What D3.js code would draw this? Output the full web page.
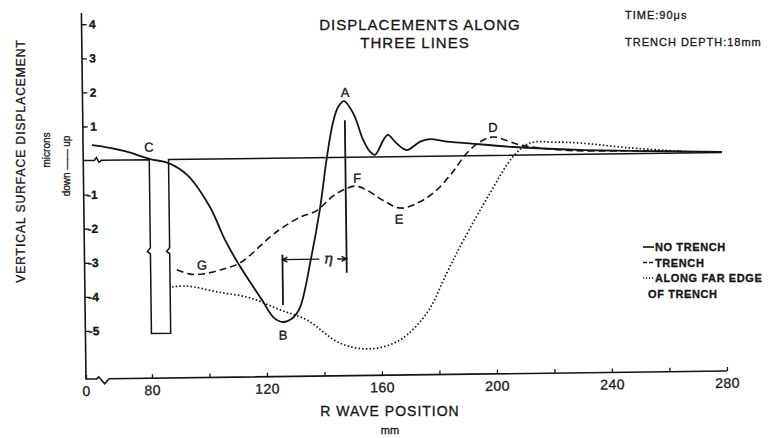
<!DOCTYPE html>
<html>
<head>
<meta charset="utf-8">
<script src="https://cdn.jsdelivr.net/npm/d3@7"></script>
<style>
    body { margin: 0; background: #fff; }
    svg text { font-family: "Liberation Sans", Arial, sans-serif; fill: #151515; stroke: #151515; stroke-width: 0.3px; }
</style>
</head>
<body>
<svg id="chart" width="776" height="438"></svg>
<script>
// R wave position (mm) and vertical surface displacement (microns)
var noTrenchX = [10.8, 20.5, 50.7, 80.3, 86.5, 93.1, 100.9, 106, 110.4, 119, 122.5, 125.8, 129.4, 131.8, 135.8, 139.2,
    141.8, 144.1, 146, 148, 151.2, 154.5, 156.8, 158.5, 161.5, 163.1, 166.1, 169.6, 174.3, 177.7, 183.5, 189.2,
    206.6, 229.9, 254.4, 279.2];
var noTrenchY = [0.45, 0.42, 0.26, 0.02, -0.1, -0.46, -1.41, -2.38, -3.06, -4.21, -4.67, -4.81, -4.68, -4.39, -2.97, -1.48,
    0.01, 1.04, 1.49, 1.65, 1.28, 0.5, 0.16, 0.06, 0.49, 0.64, 0.39, 0.19, 0.43, 0.5, 0.42, 0.38,
    0.24, 0.13, 0.07, 0.02];

var trenchX = [89.1, 93.7, 98.2, 104.1, 111.1, 121.7, 125.9, 132.2, 137.9, 143.8, 148.6, 152, 155.5, 161.2, 167.1,
    174, 179.9, 185.5, 190.5, 195.1, 199.7, 209, 223.9, 250.8, 265];
var trenchY = [-3.24, -3.37, -3.37, -3.26, -3.06, -2.31, -2.05, -1.74, -1.56, -1.13, -0.91, -0.85, -0.97, -1.28, -1.51,
    -1.33, -0.99, -0.47, 0.08, 0.4, 0.54, 0.3, 0.13, 0.08, 0.05];

var farEdgeX = [87.4, 92.6, 103, 114.4, 124.8, 134.1, 145.5, 155.9, 166.4, 175.9, 183, 188.8, 198.4, 206.5, 212.5,
    220.5, 229.9, 247.3, 268.1];
var farEdgeY = [-3.74, -3.72, -3.9, -4.09, -4.45, -4.76, -5.45, -5.63, -5.38, -4.6, -3.43, -2.5, -1.1, -0.05, 0.35,
    0.37, 0.33, 0.17, 0.03];

// trench sketch drawn on the surface line
var trenchEdges = [80, 86.7];
var trenchBottom = -5.1;
var surfaceEnd = 279.2;

// point labels on the curves
var pointNames = ["A", "B", "C", "D", "E", "F", "G"];
var pointX = [148.4, 125.8, 79.9, 199.7, 166.6, 152.2, 97.9];
var pointY = [1.91, -5.19, 0.37, 0.83, -1.83, -0.61, -3.11];

// eta: distance between B and A
var etaX = [125.9, 148.2];
var etaLeftY = [-2.84, -4.31];
var etaRightY = [1.09, -3.39];
var etaArrowY = -2.98;

var xTicks = [0, 80, 100, 120, 140, 160, 180, 200, 220, 240, 260, 280];
var xLabels = [0, 80, 120, 160, 200, 240, 280];
var yTicks = [4, 3, 2, 1, -1, -2, -3, -4, -5];

var svg = d3.select("svg#chart");

// the x axis is broken between 0 and 80 mm
var x = d3.scaleLinear().domain([0, 80, 280]).range([86, 152, 727]);
var y = d3.scaleLinear().domain([-6.41, 4.33]).range([379, 13]);

// the scanned page is turned slightly
var g = svg.append("g").attr("transform", "rotate(-0.72,86,379)");

var ink = "#141414";

// axes
var x0 = x(0), y0 = y(-6.41);
g.append("path")
    .attr("d", "M" + x0 + "," + y(4.33) + "V" + y0 +
        "H" + x(13) + "L" + x(15.5) + "," + (y0 - 2) + "L" + x(22.5) + "," + (y0 + 5) +
        "L" + x(28) + "," + y0 + "H" + x(280))
    .attr("fill", "none").attr("stroke", ink).attr("stroke-width", 1.6);

var xAxis = g.append("g")
    .attr("transform", "translate(0," + y0 + ")")
    .call(d3.axisBottom(x).tickValues(xTicks).tickSizeInner(-4).tickSizeOuter(0).tickPadding(7)
        .tickFormat(d => (xLabels.indexOf(d) >= 0 ? d : "")));
xAxis.select(".domain").remove();
xAxis.selectAll("line").attr("stroke", ink).attr("stroke-width", 1.3);
xAxis.selectAll("text").style("font-size", "14px").style("letter-spacing", "0.5px").attr("fill", ink);

var yAxis = g.append("g")
    .attr("transform", "translate(" + x0 + ",0)")
    .call(d3.axisRight(y).tickValues(yTicks).tickSize(5).tickFormat(d => String(d)));
yAxis.select(".domain").remove();
yAxis.selectAll("line").attr("stroke", ink).attr("stroke-width", 1.3);
yAxis.selectAll("text")
    .attr("x", 14)
    .style("text-anchor", "end")
    .style("font-size", "12px")
    .style("font-weight", "bold")
    .attr("fill", ink);

// surface line with the trench cut in it
var sy = y(0), bx = x(13.5);
var trL = x(trenchEdges[0]), trR = x(trenchEdges[1]), trB = y(trenchBottom);
var braceY = y(-2.7);
g.append("path")
    .attr("d",
        "M" + x0 + "," + sy + "H" + bx + "L" + x(16) + "," + (sy - 3) + "L" + x(19) + "," + (sy + 2) +
        "L" + x(22) + "," + sy + "H" + trL +
        "V" + (braceY - 4) + "L" + (trL - 3) + "," + braceY + "L" + trL + "," + (braceY + 2) +
        "V" + trB + "H" + trR +
        "V" + (braceY + 2) + "L" + (trR - 3) + "," + braceY + "L" + trR + "," + (braceY - 4) +
        "V" + sy + "H" + x(surfaceEnd))
    .attr("fill", "none").attr("stroke", ink).attr("stroke-width", 1.5);

// the three displacement curves
var line = d3.line()
    .x(d => x(d[0]))
    .y(d => y(d[1]))
    .curve(d3.curveCatmullRom.alpha(0.5));

var curves = [
    { xs: noTrenchX, ys: noTrenchY, dash: null, w: 1.8 },
    { xs: trenchX, ys: trenchY, dash: "7,4", w: 1.6 },
    { xs: farEdgeX, ys: farEdgeY, dash: "1.5,2.2", w: 1.7 }
];

g.selectAll("path.curve")
    .data(curves)
    .enter()
    .append("path")
    .attr("class", "curve")
    .attr("d", c => line(c.xs.map((v, i) => [v, c.ys[i]])))
    .attr("fill", "none")
    .attr("stroke", ink)
    .attr("stroke-width", c => c.w)
    .attr("stroke-dasharray", c => c.dash);

// point letters
g.selectAll("text.pt")
    .data(pointNames)
    .enter()
    .append("text")
    .attr("class", "pt")
    .attr("x", (d, i) => x(pointX[i]))
    .attr("y", (d, i) => y(pointY[i]))
    .attr("dy", "0.36em")
    .style("text-anchor", "middle")
    .style("font-size", "13px")
    .text(d => d);

// eta marker
var eta = g.append("g").attr("stroke", ink).attr("stroke-width", 1.8).attr("fill", "none");
eta.append("line")
    .attr("x1", x(etaX[0])).attr("x2", x(etaX[0]))
    .attr("y1", y(etaLeftY[0])).attr("y2", y(etaLeftY[1]));
eta.append("line")
    .attr("x1", x(etaX[1])).attr("x2", x(etaX[1]))
    .attr("y1", y(etaRightY[0])).attr("y2", y(etaRightY[1]));
var ay = y(etaArrowY), exL = x(etaX[0]), exR = x(etaX[1]);
var mid = exL + 0.73 * (exR - exL);
eta.append("path")
    .attr("stroke-width", 1.4)
    .attr("d", "M" + exL + "," + ay + "H" + (mid - 10) +
        "M" + (mid + 8) + "," + ay + "H" + exR +
        "M" + (exL + 5) + "," + (ay - 2.5) + "L" + exL + "," + ay + "L" + (exL + 5) + "," + (ay + 2.5) +
        "M" + (exR - 5) + "," + (ay - 2.5) + "L" + exR + "," + ay + "L" + (exR - 5) + "," + (ay + 2.5));
g.append("text")
    .attr("x", mid - 1)
    .attr("y", ay)
    .attr("dy", "0.3em")
    .style("text-anchor", "middle")
    .style("font-family", "'DejaVu Serif', serif")
    .style("font-style", "italic")
    .style("font-size", "15px")
    .text("\u03b7");

// titles and notes
var title = svg.append("g").style("font-size", "15px").style("letter-spacing", "1px").style("text-anchor", "middle");
title.append("text").attr("x", 420).attr("y", 30).text("DISPLACEMENTS ALONG");
title.append("text").attr("x", 415).attr("y", 48).text("THREE LINES");

var note = svg.append("g").style("font-size", "11px").style("letter-spacing", "1px");
note.append("text").attr("x", 625).attr("y", 19).text("TIME:90\u03bcs");
note.append("text").attr("x", 625).attr("y", 46).text("TRENCH DEPTH:18mm");

svg.append("text")
    .attr("transform", "translate(25,161) rotate(-90)")
    .style("text-anchor", "middle")
    .style("font-size", "12px")
    .style("letter-spacing", "1px")
    .text("VERTICAL SURFACE DISPLACEMENT");
svg.append("text")
    .attr("transform", "translate(50,150) rotate(-90)")
    .style("text-anchor", "middle")
    .style("font-size", "10px")
    .text("microns");
svg.append("text")
    .attr("transform", "translate(70,166) rotate(-90)")
    .style("text-anchor", "middle")
    .style("font-size", "10px")
    .text("down \u2014\u2014 up");

svg.append("text")
    .attr("x", 390).attr("y", 416)
    .style("text-anchor", "middle")
    .style("font-size", "14px")
    .style("letter-spacing", "1px")
    .text("R WAVE POSITION");
svg.append("text")
    .attr("x", 390).attr("y", 434)
    .style("text-anchor", "middle")
    .style("font-size", "11px")
    .text("mm");

// legend
var legendNames = ["NO TRENCH", "TRENCH", "ALONG FAR EDGE", "OF TRENCH"];
var legendDash = [null, "4,2", "1.2,1.8", null];
var legend = svg.append("g").attr("transform", "translate(643,251)");
legend.selectAll("text")
    .data(legendNames)
    .enter()
    .append("text")
    .attr("x", (d, i) => (i == 3 ? 5 : 12))
    .attr("y", (d, i) => i * 15.5)
    .style("font-size", "11px")
    .style("font-weight", "bold")
    .style("letter-spacing", "0.6px")
    .text(d => d);
legend.selectAll("line")
    .data(legendDash.slice(0, 3))
    .enter()
    .append("line")
    .attr("x1", 0).attr("x2", 11)
    .attr("y1", (d, i) => i * 15.5 - 4).attr("y2", (d, i) => i * 15.5 - 4)
    .attr("stroke", ink)
    .attr("stroke-width", 1.6)
    .attr("stroke-dasharray", d => d);
</script>
</body>
</html>
